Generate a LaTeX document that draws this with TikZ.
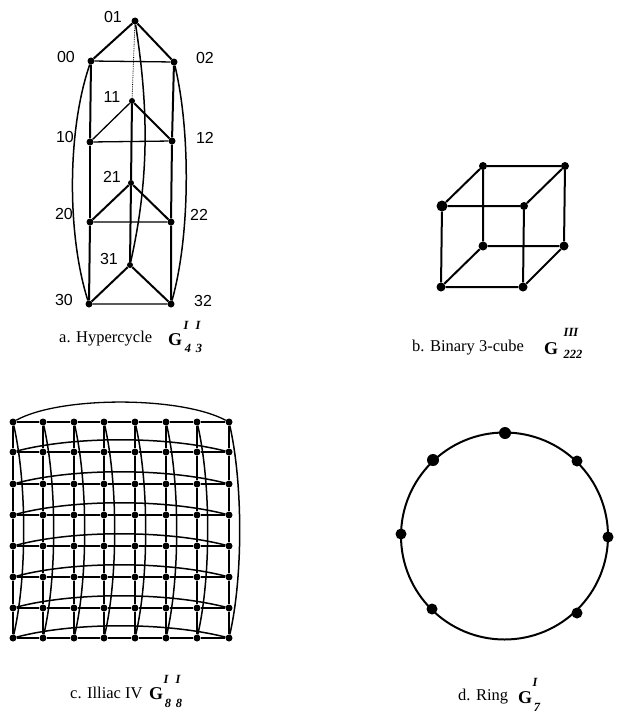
\documentclass[tikz,border=0pt]{standalone}
\usepackage{fontspec}
\setmainfont{Liberation Serif}
\newfontfamily\lblfont{Liberation Sans}
\begin{document}
\begin{tikzpicture}[x=1pt,y=-1pt,
  vtx/.style={circle,fill=black,inner sep=0pt,minimum size=7pt},
  bigvtx/.style={circle,fill=black,inner sep=0pt,minimum size=9pt},
  lbl/.style={font=\lblfont\fontsize{16}{16}\selectfont,inner sep=0pt,text=black},
  captext/.style={font=\fontsize{16.5}{18}\selectfont,inner sep=0pt,anchor=west},
  gsym/.style={font=\bfseries\fontsize{18}{18}\selectfont,inner sep=0pt},
  idx/.style={font=\bfseries\itshape\fontsize{12.5}{13}\selectfont,inner sep=0pt},
  thick edge/.style={line width=2pt},
  thin edge/.style={line width=1.3pt},
  wrap/.style={line width=1.5pt}]
\useasboundingbox (0,0) rectangle (616,717);
% ---- a. Hypercycle
\node[vtx] (h01) at (135,21) {};
\node[vtx] (h00) at (91,61) {};
\node[vtx] (h02) at (174,62) {};
\node[vtx,minimum size=6pt] (h11) at (132,101) {};
\node[vtx] (h10) at (90,142) {};
\node[vtx] (h12) at (172,141) {};
\node[vtx,minimum size=6pt] (h21) at (131,183) {};
\node[vtx] (h20) at (90,222) {};
\node[vtx] (h22) at (171,222) {};
\node[vtx,minimum size=6pt] (h31) at (130,265) {};
\node[vtx] (h30) at (89,304) {};
\node[vtx] (h32) at (171,304) {};
\draw[thick edge] (h00)--(h01) (h01)--(h02) (h11)--(h12) (h20)--(h21) (h21)--(h22) (h30)--(h31) (h31)--(h32);
\draw[thin edge] (h10)--(h11) (h00)--(h02) (h10)--(h12) (h20)--(h22) (h30)--(h32);
\draw[thick edge] (h00)--(h10) (h02)--(h12) (h12)--(h22) (h22)--(h32) (h20)--(h30) (h11)--(h21) (h21)--(h31);
\draw[thin edge] (h10)--(h20);
\draw[line width=.8pt,densely dotted] (h01)--(h11);
\draw[wrap] (h00) .. controls (67,130) and (67,235) .. (h30);
\draw[wrap] (h02) .. controls (190.5,130) and (190.5,235) .. (h32);
\draw[wrap] (h01) .. controls (149,110) and (149,180) .. (h31);
\node[lbl] (t01) at (113,17) {01};
\node[lbl] (t00) at (66,57) {00};
\node[lbl] (t02) at (205,58) {02};
\node[lbl] (t11) at (112,97) {11};
\node[lbl] (t10) at (65,137) {10};
\node[lbl] (t12) at (205,138) {12};
\node[lbl] (t21) at (112,177) {21};
\node[lbl] (t20) at (64,214) {20};
\node[lbl] (t22) at (199,215) {22};
\node[lbl] (t31) at (109,259) {31};
\node[lbl] (t30) at (64,300) {30};
\node[lbl] (t32) at (203,301) {32};
\node[captext] (capa) at (59,339) {a. Hypercycle};
\node[gsym] (ga) at (175,340) {G};
\node[idx] (ga1) at (186,325) {I};
\node[idx] (ga2) at (198,325) {I};
\node[idx] (ga3) at (188,348) {4};
\node[idx] (ga4) at (199,348) {3};
% ---- b. Cube
\node[vtx,minimum size=8pt] (c1) at (483,166) {};
\node[vtx,minimum size=8pt] (c2) at (565,166) {};
\node[bigvtx,minimum size=11pt] (c3) at (442,206) {};
\node[vtx,minimum size=8pt] (c4) at (524,206) {};
\node[vtx,minimum size=9pt] (c5) at (483,246) {};
\node[vtx,minimum size=9pt] (c6) at (564,246) {};
\node[vtx,minimum size=9pt] (c7) at (441,287) {};
\node[vtx,minimum size=9pt] (c8) at (523,287) {};
\draw[thick edge] (c1)--(c2) (c3)--(c1) (c4)--(c2) (c3)--(c4) (c1)--(c5) (c2)--(c6) (c3)--(c7) (c4)--(c8)
  (c5)--(c6) (c7)--(c8) (c7)--(c5) (c8)--(c6);
\node[captext] (capb) at (412,348) {b. Binary 3-cube};
\node[gsym] (gb) at (551,349) {G};
\node[idx] (gb1) at (571,332) {III};
\node[idx] (gb2) at (573,354) {222};
% ---- c. Illiac IV
\foreach \i/\x in {1/13,2/43,3/74,4/104,5/135,6/166,7/197,8/229}
  \foreach \j/\y in {1/422,2/452,3/484,4/515,5/546,6/577,7/608,8/638}
    \node[vtx] (g\i-\j) at (\x,\y) {};
\foreach \j in {1,...,8}
  \draw[line width=2pt] (g1-\j)--(g2-\j)--(g3-\j)--(g4-\j)--(g5-\j)--(g6-\j)--(g7-\j)--(g8-\j);
\foreach \i in {1,...,8}
  \draw[line width=2.2pt] (g\i-1)--(g\i-2)--(g\i-3)--(g\i-4)--(g\i-5)--(g\i-6)--(g\i-7)--(g\i-8);
\foreach \i in {1,...,8}
  \draw[wrap] (g\i-1) .. controls ([xshift=14pt]g\i-3) and ([xshift=14pt]g\i-6) .. (g\i-8);
\draw[line width=1.3pt] (g1-1) .. controls (60,396) and (180,396) .. (g8-1);
\foreach \j in {2,...,8}
  \draw[wrap] (g1-\j) .. controls ([yshift=16pt]g3-\j) and ([yshift=16pt]g6-\j) .. (g8-\j);
\node[captext] (capc) at (70,693) {c. Illiac IV};
\node[gsym] (gc) at (156,694) {G};
\node[idx] (gc1) at (166,679) {I};
\node[idx] (gc2) at (178,679) {I};
\node[idx] (gc3) at (168,703) {8};
\node[idx] (gc4) at (179,703) {8};
% ---- d. Ring
\node[draw,circle,line width=2pt,inner sep=0pt,minimum size=207pt] (ring) at (504.5,536) {};
\node[bigvtx,minimum size=12pt] (r1) at (505,433) {};
\node[bigvtx,minimum size=12pt] (r2) at (433,460) {};
\node[bigvtx,minimum size=11pt] (r3) at (577,461) {};
\node[bigvtx,minimum size=11pt] (r4) at (401,534) {};
\node[bigvtx,minimum size=11pt] (r5) at (608,537) {};
\node[bigvtx,minimum size=11pt] (r6) at (432,609) {};
\node[bigvtx,minimum size=11pt] (r7) at (577,613) {};
\node[captext] (capd) at (458,697) {d. Ring};
\node[gsym] (gd) at (525,698) {G};
\node[idx] (gd1) at (535,682) {I};
\node[idx] (gd2) at (537,707) {7};
\end{tikzpicture}
\end{document}
